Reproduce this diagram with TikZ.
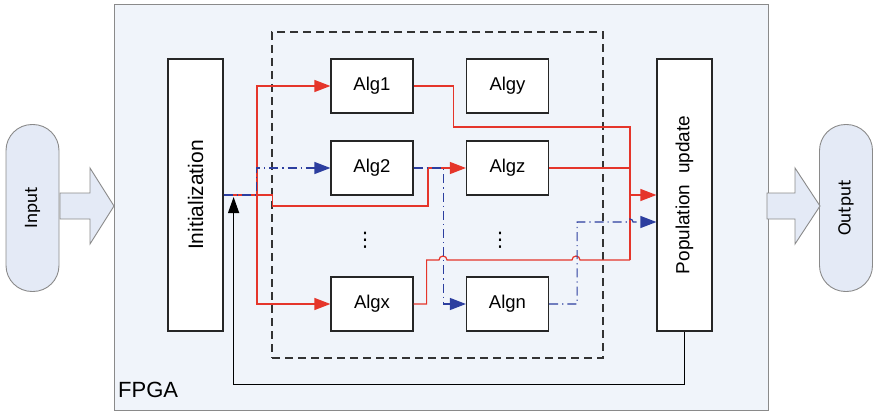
\documentclass[tikz,border=0pt]{standalone}
\usepackage{fontspec}
\setmainfont{Liberation Sans}
\newfontfamily\calibri{Carlito}
\newfontfamily\dejavu{DejaVu Sans}
\usetikzlibrary{arrows.meta,calc}
\definecolor{fpgafill}{HTML}{F0F4FA}
\definecolor{edgegrey}{HTML}{8A8A8A}
\definecolor{pillfill}{HTML}{E4EAF6}
\definecolor{sigred}{HTML}{E5352A}
\definecolor{sigblue}{HTML}{2C3E9F}
\begin{document}
\begin{tikzpicture}[x=1pt,y=-1pt,
  algbox/.style={draw=black!85, fill=white, line width=1.2pt, minimum width=82pt,
    minimum height=54pt, inner sep=0pt, font=\fontsize{18.5}{20}\selectfont},
  tallbox/.style={draw=black!85, fill=white, line width=1.2pt, rotate=90,
    minimum width=272pt, minimum height=55pt, inner sep=0pt},
  pill/.style={draw=edgegrey, fill=pillfill, line width=0.9pt, rotate=90,
    minimum width=167pt, minimum height=53pt, rounded corners=26pt, inner sep=0pt,
    font=\calibri\fontsize{19}{20}\selectfont},
  fatarrow/.style={draw=edgegrey, fill=pillfill, line width=0.9pt, line join=miter},
  redline/.style={draw=sigred, line width=1.2pt},
  blueline/.style={draw=sigblue, line width=1.2pt,
    dash pattern=on 9pt off 4pt on 1.2pt off 4pt},
  sigtip/.style={-{Triangle[length=16pt,width=12pt]}},
  dotcol/.style={inner sep=0pt, font=\dejavu\fontsize{20}{20}\selectfont}
]
\useasboundingbox (0,0) rectangle (874,414);

% FPGA board
\node[draw=edgegrey, fill=fpgafill, line width=1pt, minimum width=654pt,
      minimum height=405pt, inner sep=0pt] (fpga) at (441,207.5) {};
\node[anchor=base west, inner sep=0pt, font=\fontsize{22}{24}\selectfont]
      (fpgalabel) at (118,397) {FPGA};

% algorithm pool
\node[draw=black!80, dash pattern=on 8pt off 5pt, line width=1.3pt,
      minimum width=331pt, minimum height=326pt, inner sep=0pt] (pool) at (437.5,195) {};

% input / output
\node[pill] (inp) at (32.5,208) {Input};
\node[pill] (outp) at (846,208) {Output};
\draw[fatarrow] (60,193) -- (90,193) -- (90,168) -- (114,206) -- (90,244) -- (90,219) -- (60,219) -- cycle;
\draw[fatarrow] (767,193) -- (795,193) -- (795,168) -- (820,206) -- (795,244) -- (795,219) -- (767,219) -- cycle;

% main blocks
\node[tallbox, font=\fontsize{21}{22}\selectfont] (init) at (195.5,195) {Initialization};
\node[tallbox, font=\fontsize{19}{20}\selectfont] (pop) at (684.5,195) {Population\ \ update};

\node[algbox] (alg1) at (372,86) {Alg1};
\node[algbox] (algy) at (507.5,86) {Algy};
\node[algbox] (alg2) at (372,168) {Alg2};
\node[algbox] (algz) at (507.5,168) {Algz};
\node[algbox] (algx) at (372,304) {Algx};
\node[algbox] (algn) at (507.5,304) {Algn};

\node[dotcol] (dotsa) at (365,240) {⋮};
\node[dotcol] (dotsb) at (500,240) {⋮};

% red dispatch from initialization
\coordinate (split) at (257,195);
\draw[redline] (init.south) -- (split);
\draw[redline,sigtip] (split) |- (alg1.west);
\draw[redline,sigtip] (split) |- (algx.west);
\draw[redline,sigtip] (init.south) -- ++(49,0) -- ++(0,11) -| ([xshift=-38pt]algz.west) -- (algz.west);

% red results into population update
\coordinate (bus) at (630,195);
\draw[redline] (alg1.east) -- ++(40,0) -- ++(0,41) -- (630,127) -- (630,260);
\draw[redline] (algz.east) -- (630,168);
\draw[redline] (algx.east) -- ++(13,0) -- ++(0,-44) -- (439,260)
  arc[start angle=180, end angle=0, radius=4pt] -- (572,260)
  arc[start angle=180, end angle=0, radius=4pt] -- (630,260);
\draw[redline,sigtip] (bus) -- (pop.north);

% blue chain
\draw[blueline,sigtip] (init.south) -| ([xshift=-74pt]alg2.west) -- (alg2.west);
\draw[blueline,sigtip] (alg2.east) -- ++(30,0) |- (algn.west);
\draw[blueline,sigtip] (algn.east) -- ++(28,0) -- ++(0,-82) -- (627,222)
  arc[start angle=180, end angle=0, radius=3pt] -- ([yshift=-27pt]pop.north);

% feedback loop
\draw[black, line width=1.2pt, -{Triangle[length=16pt,width=11pt]}]
  (pop.west) -- ++(0,53) -| ([xshift=10pt,yshift=-2pt]init.south);
\end{tikzpicture}
\end{document}
